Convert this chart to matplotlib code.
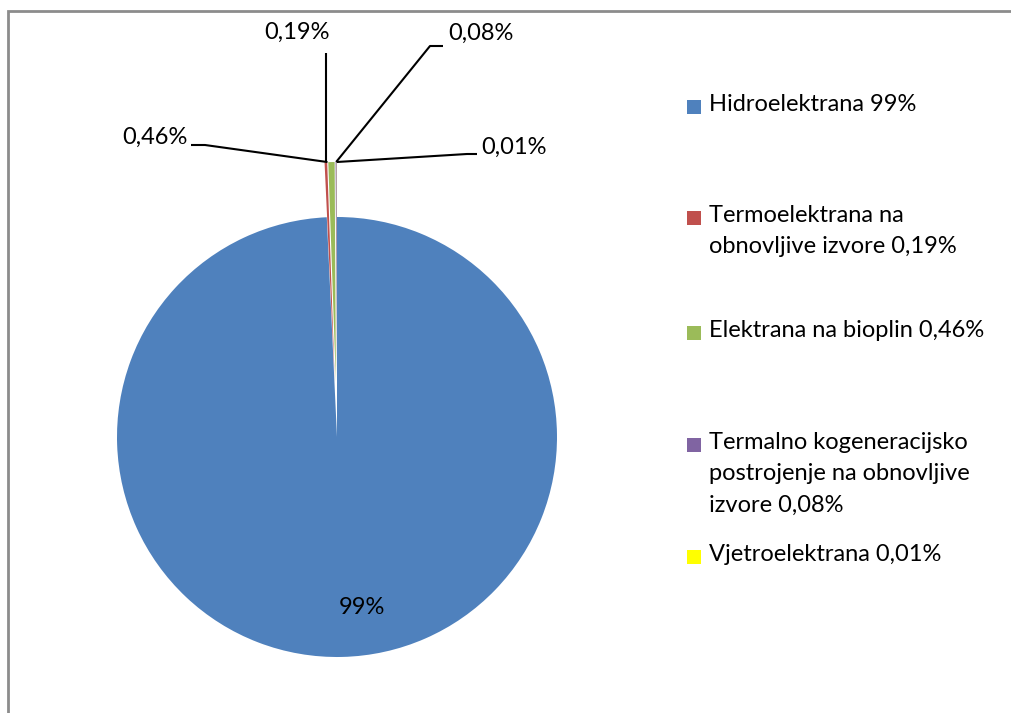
"""
udio izvora u proizvodnji - pie chart
"""

import numpy as np
import matplotlib.pyplot as plt
from matplotlib.patches import Rectangle

plt.rcParams['font.family'] = ['Lato', 'DejaVu Sans']

names = ["Hidroelektrana 99%",
         "Termoelektrana na\nobnovljive izvore 0,19%",
         "Elektrana na bioplin 0,46%",
         "Termalno kogeneracijsko\npostrojenje na obnovljive\nizvore 0,08%",
         "Vjetroelektrana 0,01%"]
shares = [99.26, 0.19, 0.46, 0.08, 0.01]
pct_labels = ["99%", "0,19%", "0,46%", "0,08%", "0,01%"]
colors = ["#4F81BD", "#C0504D", "#9BBB59", "#8064A2", "#FFFF00"]

W, H = 1012, 713
fig = plt.figure(figsize=(W / 100, H / 100), dpi=100)
ax = fig.add_axes([0, 0, 1, 1])
ax.axis('off')

# chart frame (cut off at right and bottom)
ax.add_patch(Rectangle((8, -10), W + 20, H - 11 + 10, fill=False,
                       edgecolor='#8c8c8c', linewidth=2))

cx, cy, r = 337, H - 437, 220
# explode is in data units here (pixels)
explode = [0, 55, 55, 55, 55]
wedges, _ = ax.pie(shares, colors=colors, startangle=90, counterclock=False,
                   center=(cx, cy), radius=r, explode=explode,
                   wedgeprops=dict(linewidth=0))
ax.set_xlim(0, W)
ax.set_ylim(0, H)
ax.set_aspect('auto')

fs = 17
# big slice label
ax.text(cx + 25, cy - 171, pct_labels[0], fontsize=fs, ha='center', va='center')

# small slice labels with leader lines (label pos, elbow pos)
lab_pos = {1: (297, 32), 2: (155, 137), 3: (481, 33), 4: (514, 147)}
elbow = {1: [(326, 53)], 2: [(191, 145), (205, 145)],
         3: [(443, 46), (430, 46)], 4: [(477, 154), (467, 154)]}
for i in range(1, 5):
    w = wedges[i]
    ang = np.deg2rad((w.theta1 + w.theta2) / 2)
    tip = [w.center[0] + w.r * np.cos(ang), w.center[1] + w.r * np.sin(ang)]
    if i == 2:
        tip[0] -= 4
    pts = [(x, H - y) for x, y in elbow[i]] + [tuple(tip)]
    if i == 1:
        pts[0] = (tip[0], pts[0][1])
    xs, ys = zip(*pts)
    ax.plot(xs, ys, color='black', linewidth=1.5, solid_capstyle='butt')
    lx, ly = lab_pos[i]
    ax.text(lx, H - ly, pct_labels[i], fontsize=fs, ha='center', va='center')

# legend drawn by hand (Excel spacing)
leg_y = [107, 218, 333, 445, 557]
for name, col, y in zip(names, colors, leg_y):
    ax.add_patch(Rectangle((687, H - y - 7), 14, 14, facecolor=col, edgecolor='none'))
    ax.text(709, H - y + 13, name, fontsize=fs, ha='left', va='top',
            linespacing=1.6)

fig.savefig('out.png', dpi=100)
